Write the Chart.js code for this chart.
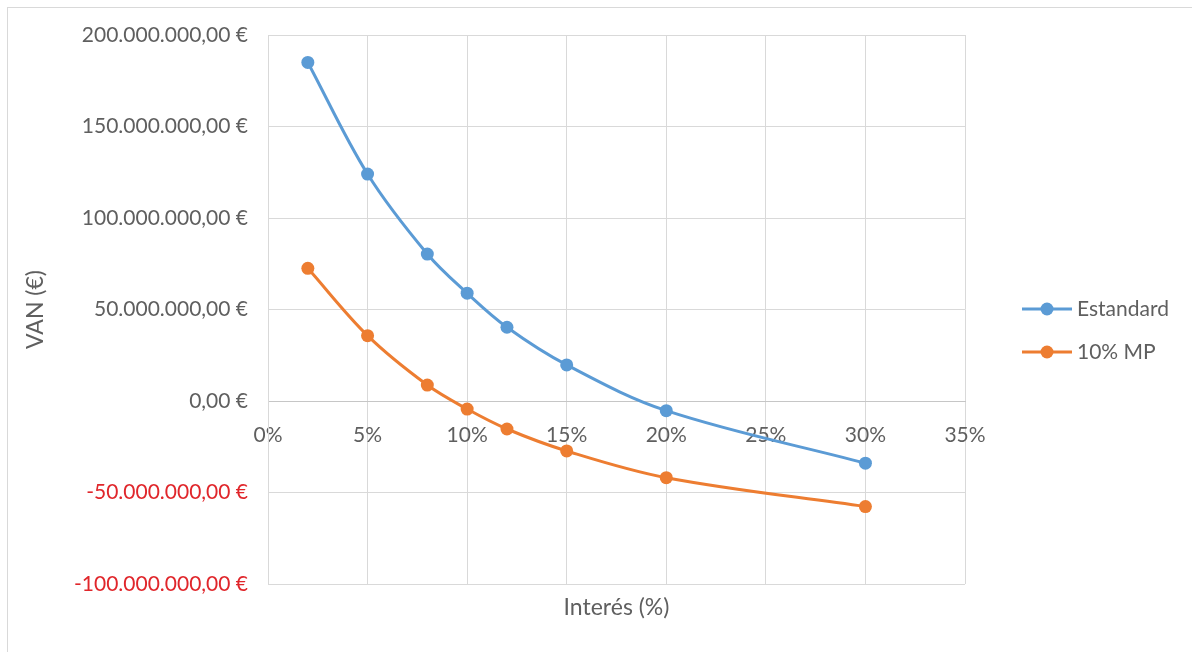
<!DOCTYPE html>
<html>
<head>
<meta charset="utf-8">
<script src="https://cdn.jsdelivr.net/npm/chart.js@4/dist/chart.umd.min.js"></script>
<style>
  html, body { margin: 0; padding: 0; background: #ffffff; }
  #wrap { width: 1192px; height: 652px; position: relative; }
</style>
</head>
<body>
<div id="wrap"><canvas id="van"></canvas></div>
<script>
// Interest rates (%) and net present value (€) for each scenario
const interes = [2, 5, 8, 10, 12, 15, 20, 30];
const vanEstandard = [185000000, 124000000, 80300000, 58900000, 40300000, 19700000, -5300000, -34000000];
const vanMP = [72500000, 35700000, 8700000, -4400000, -15300000, -27300000, -41900000, -57700000];
const seriesNames = ['Estandard', '10% MP'];

const xTicks = [0, 5, 10, 15, 20, 25, 30, 35];
const yTicks = [-100000000, -50000000, 0, 50000000, 100000000, 150000000, 200000000];

const FONT = 'Lato, "Open Sans", sans-serif';
const TEXT = '#5f5f5f';
const NEG = '#e0262b';
const GRID = '#d9d9d9';
const BLUE = '#5b9bd5';
const ORANGE = '#ed7d31';

// 200000000 -> "200.000.000,00 €"
function euro(v) {
  const neg = v < 0;
  const s = Math.round(Math.abs(v)).toString().replace(/\B(?=(\d{3})+(?!\d))/g, '.');
  return (neg ? '-' : '') + s + ',00 €';
}

function points(values) {
  return interes.map((x, i) => ({ x: x, y: values[i] }));
}

// White page with a thin frame, and a legend of line + marker swatches
const framePlugin = {
  id: 'frame',
  beforeDraw(chart) {
    const ctx = chart.ctx;
    ctx.save();
    ctx.fillStyle = '#ffffff';
    ctx.fillRect(0, 0, chart.width, chart.height);
    ctx.strokeStyle = '#d9d9d9';
    ctx.lineWidth = 1;
    ctx.strokeRect(7.5, 7.5, chart.width + 20, chart.height + 20);
    ctx.restore();
  },
  afterDraw(chart) {
    const ctx = chart.ctx;
    ctx.save();
    chart.data.datasets.forEach((ds, i) => {
      const y = 309 + i * 43;
      ctx.strokeStyle = ds.borderColor;
      ctx.lineWidth = 3;
      ctx.beginPath();
      ctx.moveTo(1022, y);
      ctx.lineTo(1072, y);
      ctx.stroke();
      ctx.fillStyle = ds.backgroundColor;
      ctx.beginPath();
      ctx.arc(1047, y, 6.5, 0, Math.PI * 2);
      ctx.fill();
      ctx.fillStyle = TEXT;
      ctx.font = '21px ' + FONT;
      ctx.textAlign = 'left';
      ctx.textBaseline = 'middle';
      ctx.fillText(ds.label, 1077, y);
    });
    ctx.restore();
  }
};

new Chart(document.getElementById('van'), {
  type: 'line',
  data: {
    datasets: [
      {
        label: seriesNames[0],
        data: points(vanEstandard),
        borderColor: BLUE,
        backgroundColor: BLUE,
        borderWidth: 3,
        pointRadius: 6.5,
        pointBorderWidth: 0,
        pointBackgroundColor: BLUE,
        tension: 0.35,
        xAxisID: 'x'
      },
      {
        label: seriesNames[1],
        data: points(vanMP),
        borderColor: ORANGE,
        backgroundColor: ORANGE,
        borderWidth: 3,
        pointRadius: 6.5,
        pointBorderWidth: 0,
        pointBackgroundColor: ORANGE,
        tension: 0.35,
        xAxisID: 'x'
      }
    ]
  },
  options: {
    responsive: true,
    maintainAspectRatio: false,
    animation: false,
    layout: { padding: { top: 35, right: 227, bottom: 0, left: 0 } },
    plugins: {
      legend: { display: false },
      tooltip: { enabled: false }
    },
    scales: {
      x: {
        type: 'linear',
        position: { y: 0 },
        min: 0,
        max: 35,
        afterBuildTicks(scale) { scale.ticks = xTicks.map(v => ({ value: v })); },
        ticks: {
          callback: v => v + '%',
          color: TEXT,
          font: { family: FONT, size: 21 },
          padding: 22,
          maxRotation: 0
        },
        grid: { color: GRID, lineWidth: 1, drawTicks: false },
        border: { display: true, color: '#c6c6c6', width: 1 }
      },
      xTitle: {
        type: 'linear',
        position: 'bottom',
        min: 0,
        max: 35,
        display: true,
        ticks: { display: false },
        grid: { display: false, drawTicks: false },
        border: { display: false },
        title: {
          display: true,
          text: 'Interés (%)',
          color: TEXT,
          font: { family: FONT, size: 23 },
          padding: { top: 0, bottom: 31 }
        },
        afterFit(scale) { scale.height = 68; }
      },
      y: {
        type: 'linear',
        position: 'left',
        min: -100000000,
        max: 200000000,
        afterBuildTicks(scale) { scale.ticks = yTicks.map(v => ({ value: v })); },
        ticks: {
          callback: v => euro(v),
          color: ctx => (ctx.tick && ctx.tick.value < 0 ? NEG : TEXT),
          font: { family: FONT, size: 21 },
          padding: 20
        },
        grid: { color: GRID, lineWidth: 1, drawTicks: false },
        border: { display: true, color: GRID, width: 1 },
        title: {
          display: true,
          text: 'VAN (€)',
          color: TEXT,
          font: { family: FONT, size: 23 },
          padding: { top: 22, bottom: 0 }
        },
        afterFit(scale) { scale.width = 268; }
      }
    }
  },
  plugins: [framePlugin]
});
</script>
</body>
</html>
